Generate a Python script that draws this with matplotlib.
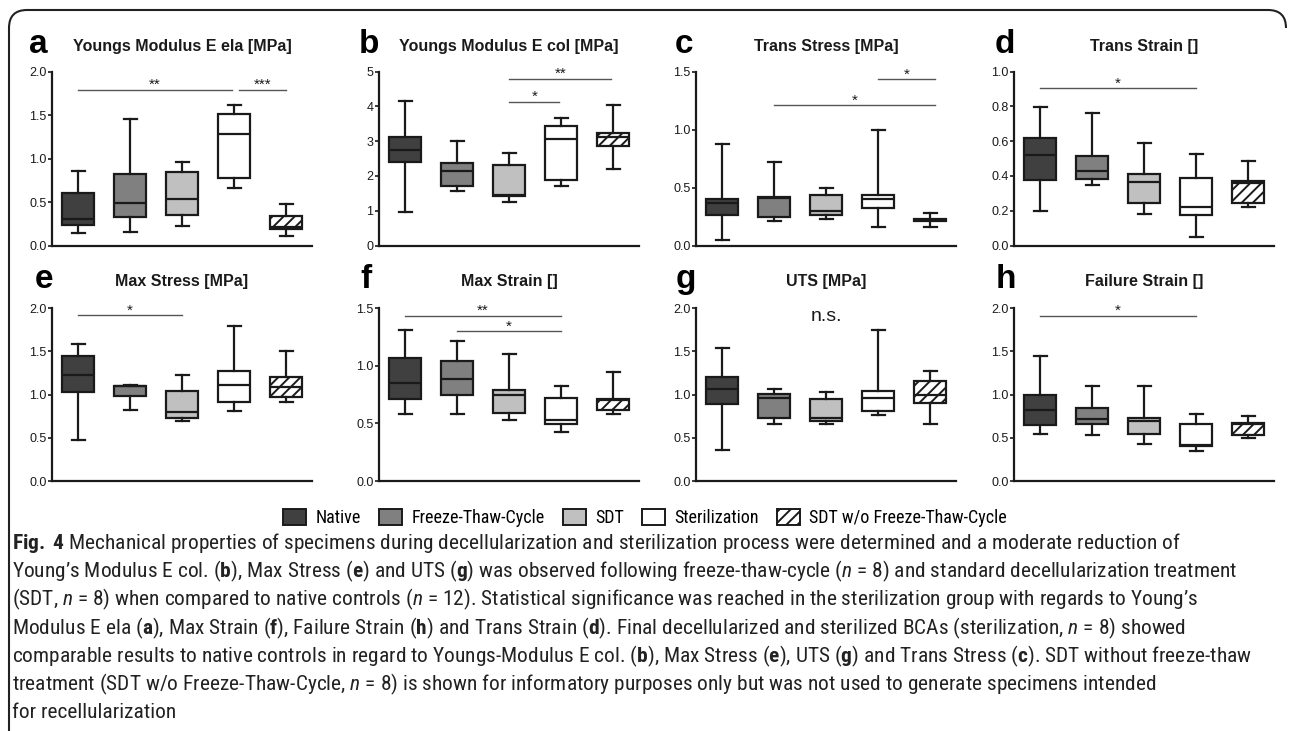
import matplotlib
matplotlib.use("Agg")
import matplotlib.pyplot as plt
from matplotlib.patches import Patch, PathPatch
from matplotlib.path import Path
from matplotlib import font_manager as fm

_names = {f.name for f in fm.fontManager.ttflist}
_CANDS = ['Liberation Sans Narrow', 'Roboto Condensed', 'Noto Sans Condensed',
          'Arial Narrow', 'Open Sans Condensed']
CAP_FONT = next((c for c in _CANDS if c in _names), 'Liberation Sans')
CONDENSED = CAP_FONT != 'Liberation Sans'

plt.rcParams['font.family'] = ['Liberation Sans', 'DejaVu Sans']
plt.rcParams['mathtext.fontset'] = 'custom'
plt.rcParams['mathtext.rm'] = CAP_FONT
plt.rcParams['mathtext.it'] = CAP_FONT + ':italic'
plt.rcParams['mathtext.bf'] = CAP_FONT + ':bold'
plt.rcParams['hatch.linewidth'] = 1.4

# ---------------- data ----------------
GROUPS = ["Native", "Freeze-Thaw-Cycle", "SDT", "Sterilization", "SDT w/o Freeze-Thaw-Cycle"]

# each row: [whisker low, Q1, median, Q3, whisker high]
E_ELA = [[0.14, 0.24, 0.30, 0.60, 0.86],
         [0.16, 0.33, 0.49, 0.82, 1.46],
         [0.23, 0.35, 0.54, 0.85, 0.96],
         [0.66, 0.78, 1.28, 1.51, 1.62],
         [0.11, 0.19, 0.21, 0.34, 0.48]]
E_COL = [[0.96, 2.39, 2.76, 3.12, 4.17],
         [1.56, 1.71, 2.14, 2.38, 3.00],
         [1.24, 1.41, 1.44, 2.31, 2.65],
         [1.71, 1.87, 3.05, 3.44, 3.68],
         [2.21, 2.87, 3.12, 3.24, 4.03]]
TRANS_STRESS = [[0.05, 0.26, 0.37, 0.40, 0.875],
                [0.21, 0.25, 0.41, 0.415, 0.72],
                [0.23, 0.26, 0.30, 0.435, 0.50],
                [0.16, 0.32, 0.40, 0.44, 1.00],
                [0.16, 0.21, 0.22, 0.23, 0.28]]
TRANS_STRAIN = [[0.20, 0.376, 0.52, 0.617, 0.797],
                [0.35, 0.384, 0.426, 0.516, 0.76],
                [0.18, 0.244, 0.365, 0.41, 0.59],
                [0.048, 0.175, 0.22, 0.39, 0.526],
                [0.222, 0.246, 0.36, 0.369, 0.486]]
MAX_STRESS = [[0.48, 1.03, 1.23, 1.45, 1.59],
              [0.82, 0.98, 1.095, 1.10, 1.11],
              [0.70, 0.73, 0.80, 1.04, 1.23],
              [0.81, 0.915, 1.11, 1.27, 1.79],
              [0.915, 0.97, 1.085, 1.21, 1.51]]
MAX_STRAIN = [[0.584, 0.716, 0.85, 1.07, 1.31],
              [0.58, 0.745, 0.888, 1.04, 1.216],
              [0.526, 0.59, 0.745, 0.793, 1.10],
              [0.428, 0.495, 0.532, 0.719, 0.822],
              [0.578, 0.615, 0.705, 0.713, 0.946]]
UTS = [[0.36, 0.89, 1.065, 1.21, 1.54],
       [0.657, 0.73, 0.957, 1.003, 1.06],
       [0.657, 0.69, 0.725, 0.95, 1.027],
       [0.76, 0.815, 0.957, 1.04, 1.753],
       [0.657, 0.90, 1.00, 1.153, 1.27]]
FAIL_STRAIN = [[0.547, 0.65, 0.82, 1.00, 1.445],
               [0.53, 0.66, 0.713, 0.848, 1.095],
               [0.428, 0.543, 0.69, 0.732, 1.095],
               [0.347, 0.41, 0.42, 0.66, 0.775],
               [0.50, 0.53, 0.665, 0.67, 0.75]]

TITLES = ["Youngs Modulus E ela [MPa]", "Youngs Modulus E col [MPa]", "Trans Stress [MPa]",
          "Trans Strain []", "Max Stress [MPa]", "Max Strain []", "UTS [MPa]", "Failure Strain []"]
LETTERS = ["a", "b", "c", "d", "e", "f", "g", "h"]
YMAX = [2.0, 5, 1.5, 1.0, 2.0, 1.5, 2.0, 2.0]
YSTEP = [0.5, 1, 0.5, 0.2, 0.5, 0.5, 0.5, 0.5]
YFMT = ["{:.1f}", "{:.0f}", "{:.1f}", "{:.1f}", "{:.1f}", "{:.1f}", "{:.1f}", "{:.1f}"]

# significance bars: (group from, group to, y, label)
SIG_A = [(1, 3.96, 1.79, "**"), (4.1, 5, 1.79, "***")]
SIG_B = [(3, 4.97, 4.79, "**"), (3, 3.97, 4.13, "*")]
SIG_C = [(4.0, 5.1, 1.435, "*"), (2, 5.1, 1.21, "*")]
SIG_D = [(1, 4, 0.905, "*")]
SIG_E = [(1, 3, 1.92, "*")]
SIG_F = [(1, 4, 1.437, "**"), (2, 4, 1.30, "*")]
SIG_H = [(1, 4, 1.915, "*")]

CAPTION = [
    r"$\mathbf{Fig.\ 4}$ Mechanical properties of specimens during decellularization and sterilization process were determined and a moderate reduction of",
    r"Young’s Modulus E col. ($\mathbf{b}$), Max Stress ($\mathbf{e}$) and UTS ($\mathbf{g}$) was observed following freeze-thaw-cycle ($\mathit{n}$ = 8) and standard decellularization treatment",
    r"(SDT, $\mathit{n}$ = 8) when compared to native controls ($\mathit{n}$ = 12). Statistical significance was reached in the sterilization group with regards to Young’s",
    r"Modulus E ela ($\mathbf{a}$), Max Strain ($\mathbf{f}$), Failure Strain ($\mathbf{h}$) and Trans Strain ($\mathbf{d}$). Final decellularized and sterilized BCAs (sterilization, $\mathit{n}$ = 8) showed",
    r"comparable results to native controls in regard to Youngs-Modulus E col. ($\mathbf{b}$), Max Stress ($\mathbf{e}$), UTS ($\mathbf{g}$) and Trans Stress ($\mathbf{c}$). SDT without freeze-thaw",
    r"treatment (SDT w/o Freeze-Thaw-Cycle, $\mathit{n}$ = 8) is shown for informatory purposes only but was not used to generate specimens intended",
    r"for recellularization",
]
# approximate rendered line widths in the reference (pixels), used to size the font
CAPTION_TARGET_W = [1057, 1261, 1247, 1146, 1267, 1136, 165]

PANELS = [E_ELA, E_COL, TRANS_STRESS, TRANS_STRAIN, MAX_STRESS, MAX_STRAIN, UTS, FAIL_STRAIN]
SIGS = [SIG_A, SIG_B, SIG_C, SIG_D, SIG_E, SIG_F, None, SIG_H]

# ---------------- style ----------------
FACES = ['#404040', '#808080', '#c0c0c0', '#ffffff', '#ffffff']
HATCHES = [None, None, None, None, '///']
INK = '#1a1a1a'
W, H = 1290, 731

fig = plt.figure(figsize=(W / 100, H / 100), dpi=100)

X_LEFT = [52, 379, 696, 1014]
X_WIDTH = 260
ROW_TOP = [71.7, 308.3]
ROW_BOT = [245.5, 481.0]
LETTER_X = [[29, 359, 675, 995], [35, 360, 676, 996]]
LETTER_BASE = [53.3, 288.3]
TITLE_Y = [46.7, 281.7]


def fx(px):
    return px / W


def fy(py):
    return 1 - py / H


for i, stats_rows in enumerate(PANELS):
    r, c = divmod(i, 4)
    ax = fig.add_axes([fx(X_LEFT[c]), fy(ROW_BOT[r]), X_WIDTH / W,
                       (ROW_BOT[r] - ROW_TOP[r]) / H])
    stats = [dict(whislo=s[0], q1=s[1], med=s[2], q3=s[3], whishi=s[4], label=g)
             for s, g in zip(stats_rows, GROUPS)]
    bp = ax.bxp(stats, positions=range(1, 6), widths=0.63, capwidths=0.25,
                patch_artist=True, showfliers=False,
                boxprops=dict(linewidth=1.6, edgecolor=INK),
                medianprops=dict(color=INK, linewidth=1.6),
                whiskerprops=dict(color=INK, linewidth=1.6),
                capprops=dict(color=INK, linewidth=1.6))
    for patch, fc, ht in zip(bp['boxes'], FACES, HATCHES):
        patch.set_facecolor(fc)
        if ht:
            patch.set_hatch(ht)
    ax.set_xlim(0.5, 5.5)
    ax.set_ylim(0, YMAX[i])
    n = int(round(YMAX[i] / YSTEP[i]))
    ticks = [k * YSTEP[i] for k in range(n + 1)]
    ax.set_yticks(ticks)
    ax.set_yticklabels([YFMT[i].format(t) for t in ticks])
    ax.set_xticks([])
    for s in ['top', 'right']:
        ax.spines[s].set_visible(False)
    for s in ['left', 'bottom']:
        ax.spines[s].set_linewidth(1.6)
        ax.spines[s].set_color(INK)
    ax.tick_params(axis='y', length=3, width=1.2, pad=1, labelsize=9, colors=INK)

    sig = SIGS[i]
    if sig:
        for x1, x2, yv, lab in sig:
            ax.plot([x1, x2], [yv, yv], color='#555555', lw=1.0, clip_on=False)
            ax.annotate(lab, xy=((x1 + x2) / 2, yv), xytext=(0, -1.5),
                        textcoords='offset points', ha='center', va='bottom',
                        fontsize=11, color=INK)
    if i == 6:
        ax.text(3, 1.9, "n.s.", ha='center', va='center', fontsize=14, color=INK)

    cx = X_LEFT[c] + X_WIDTH / 2
    fig.text(fx(cx), fy(TITLE_Y[r]), TITLES[i], ha='center', va='center',
             fontsize=11.5, fontweight='bold', color=INK)
    fig.text(fx(LETTER_X[r][c]), fy(LETTER_BASE[r]), LETTERS[i], ha='left',
             va='baseline', fontsize=24, fontweight='bold', color='black')

# legend
handles = [Patch(facecolor=fc, edgecolor=INK, linewidth=1.4, hatch=ht)
           for fc, ht in zip(FACES, HATCHES)]
leg_size = 13 if CONDENSED else 12
fig.legend(handles, GROUPS, loc='center', bbox_to_anchor=(0.5, fy(518)), ncol=5,
           frameon=False, prop={'family': CAP_FONT, 'size': leg_size},
           handlelength=1.3, handleheight=1.0,
           handletextpad=0.5, columnspacing=1.0, borderaxespad=0)

# caption, font size matched to reference line widths
CAP_Y0, CAP_DY = 543, 28.3
base = 12.0
cap_texts = []
for k, line in enumerate(CAPTION):
    t = fig.text(fx(12), fy(CAP_Y0 + k * CAP_DY), line, ha='left', va='center',
                 fontsize=base, color='#222222', family=CAP_FONT)
    cap_texts.append(t)
renderer = fig.canvas.get_renderer()
measured = sum(t.get_window_extent(renderer).width for t in cap_texts[:6])
scale = sum(CAPTION_TARGET_W[:6]) / measured
for t in cap_texts:
    t.set_fontsize(base * scale)

# frame
verts = [(9, 731), (9, 28), (9, 10), (27, 10), (1268, 10), (1286, 10), (1286, 28)]
codes = [Path.MOVETO, Path.LINETO, Path.CURVE3, Path.CURVE3, Path.LINETO,
         Path.CURVE3, Path.CURVE3]
path = Path([(fx(x), fy(y)) for x, y in verts], codes)
fig.add_artist(PathPatch(path, facecolor='none', edgecolor='#222222', lw=1.5,
                         transform=fig.transFigure))

fig.savefig("out.png", dpi=100)
